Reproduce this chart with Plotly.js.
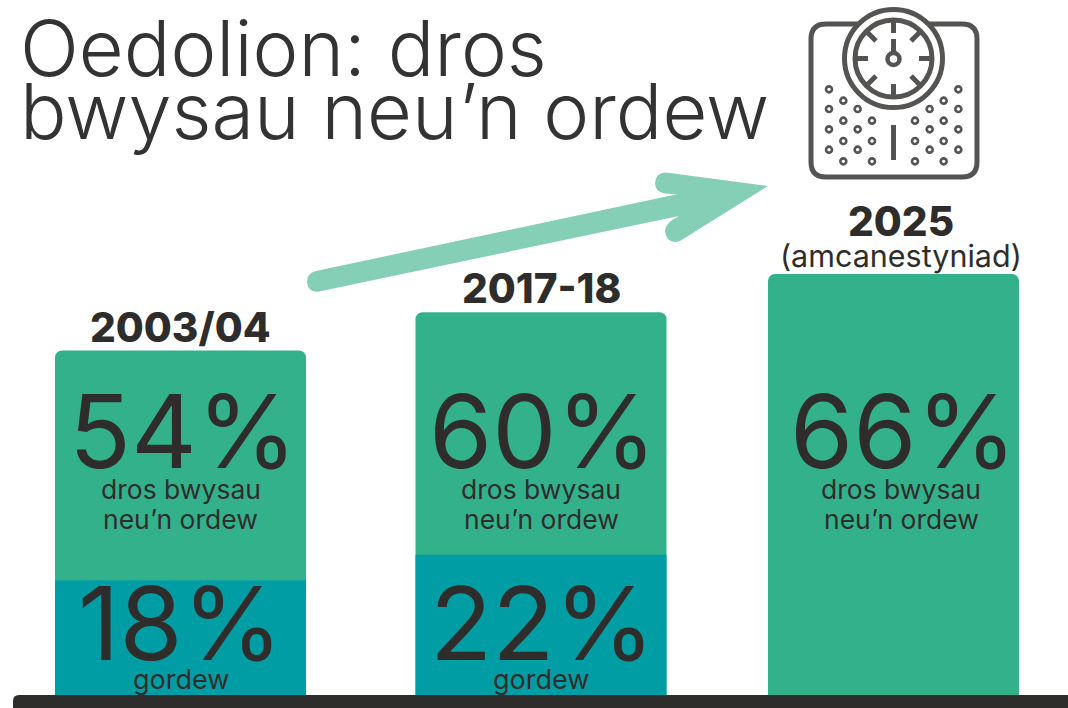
<!DOCTYPE html>
<html><head><meta charset="utf-8">
<script src="https://cdn.plot.ly/plotly-3.0.1.min.js"></script>
<style>html,body{margin:0;padding:0;background:#fff}#c{width:1068px;height:708px}</style>
</head><body><div id="c"></div>
<script>
const categories = ["2003/04", "2017-18", "2025"];
const overweight = [54, 60, 66];
const obese = [18, 22, null];
const titleLines = ["Oedolion: dros", "bwysau neu’n ordew"];
const overweightLabel = ["dros bwysau", "neu’n ordew"];
const obeseLabel = "gordew";
const projectionNote = "(amcanestyniad)";

const W = 1068, H = 708, BASE = 695, PXU = 6.38;
const centres = [180.5, 541, 893.5];
const ink = "#2e2d2c", icon = "#555453", FONT = "Inter, 'Noto Sans', sans-serif";
const Y = p => (BASE - p) / PXU;

function ann(text, x, py, size, weight, anchor, color) {
  return {text, x, y: Y(py), xref: "x", yref: "y", showarrow: false, xanchor: anchor || "center", yanchor: "middle",
    borderpad: 0, font: {family: FONT, size, weight: weight || 400, color: color || ink}};
}
const annotations = [
  ann(titleLines[0], 19, 48, 77.5, 300, "left", "#333"),
  ann(titleLines[1], 19, 111, 77.5, 300, "left", "#333"),
  ann(categories[0], 180.5, 327, 40.5, 800),
  ann(categories[1], 541, 288, 40.5, 800),
  ann(categories[2], 901, 221, 40.5, 800),
  ann(projectionNote, 901, 255, 30.5, 400)
];
const topLabelX = [182.5, 543, 903], lowLabelX = [180.5, 542];
overweight.forEach((v, i) => {
  annotations.push(ann(v + "%", topLabelX[i], 430.5, 102, 400));
  annotations.push(ann(overweightLabel[0], centres[i] + (i == 2 ? 7.5 : 0), 489, 26.5, 400));
  annotations.push(ann(overweightLabel[1], centres[i] + (i == 2 ? 7.5 : 0), 519, 26.5, 400));
});
obese.forEach((v, i) => {
  if (v === null) return;
  annotations.push(ann(v + "%", lowLabelX[i], 623, 102, 400));
  annotations.push(ann(obeseLabel, centres[i], 679, 27, 400));
});

const pathOf = pts => pts.replace(/(-?[\d.]+) (-?[\d.]+)/g, (m, a, b) => a + "," + Y(+b));
const pathShape = (p, o) => Object.assign({type: "path", xref: "x", yref: "y", path: pathOf(p), layer: "above"}, o);
const circle = (cx, cy, r, col, w, fill) => ({type: "circle", xref: "x", yref: "y", x0: cx - r, x1: cx + r, y0: Y(cy - r), y1: Y(cy + r),
  line: {color: col, width: w}, fillcolor: fill || "rgba(0,0,0,0)", layer: "above"});
const seg = (x0, y0, x1, y1, w) => ({type: "line", xref: "x", yref: "y", x0, x1, y0: Y(y0), y1: Y(y1), line: {color: icon, width: w}, layer: "above"});

const shapes = [
  pathShape("M 13 708 L 13 701 Q 13 695 19 695 L 1068 695 L 1068 708 Z", {fillcolor: ink, line: {width: 0}}),
  pathShape("M 768 186 L 666 172.5 Q 656 172 655 183 Q 655 192 665 193.5 L 677 194.3 L 316 271 Q 307 273 307 282 Q 308 293 319 291.5 L 679 216 Q 665 223 665 231 Q 667 245 680 241 Z",
    {fillcolor: "#84cfb6", line: {width: 0}}),
  pathShape("M 826 24 L 962 24 Q 977 24 977 39 L 977 162 Q 977 177 962 177 L 826 177 Q 811 177 811 162 L 811 39 Q 811 24 826 24 Z",
    {fillcolor: "#fff", line: {color: icon, width: 5}}),
  circle(893.5, 58.5, 49, icon, 5, "#fff"),
  circle(893.5, 58.5, 38.5, icon, 5, "#fff"),
  circle(893.5, 59, 6, icon, 4.5, "#fff"),
  seg(893.5, 39, 893.5, 53, 5), seg(893.5, 20, 893.5, 33, 5), seg(893.5, 84, 893.5, 97, 5),
  seg(855, 58.5, 868, 58.5, 5), seg(919, 58.5, 932, 58.5, 5),
  seg(866, 31, 876, 41, 5), seg(911, 41, 921, 31, 5), seg(866, 86, 876, 76, 5), seg(911, 76, 921, 86, 5),
  seg(893.5, 125, 893.5, 160, 5)
];
const dotsZoom = [[147,268],[190,302],[147,327],[233,327],[190,362],[276,362],[147,388],[233,388],[190,423],[276,423],[147,449],[233,449],[190,484],[276,484],
  [535,268],[491,302],[449,327],[535,327],[405,362],[491,362],[449,388],[535,388],[405,423],[491,423],[449,449],[535,449],[405,484],[491,484]];
dotsZoom.forEach(d => shapes.push(circle(780 + d[0] / 3, d[1] / 3, 3, icon, 2.6, "#fff")));

const data = [
  {type: "bar", x: centres, y: overweight, width: 251, marker: {color: "#33b18b", cornerradius: 7, line: {width: 0}}, hoverinfo: "skip", showlegend: false, name: "dros bwysau neu’n ordew"},
  {type: "bar", x: centres, y: obese, width: 251, marker: {color: "#009da5", line: {width: 0}}, hoverinfo: "skip", showlegend: false, name: "gordew"}
];
const layout = {
  width: W, height: H, margin: {l: 0, r: 0, t: 0, b: 0}, paper_bgcolor: "#fff", plot_bgcolor: "#fff",
  barmode: "overlay", showlegend: false,
  xaxis: {range: [0, W], visible: false, fixedrange: true},
  yaxis: {range: [Y(H), Y(0)], visible: false, fixedrange: true},
  annotations, shapes
};
Plotly.newPlot("c", data, layout, {displayModeBar: false, staticPlot: true});
</script></body></html>
